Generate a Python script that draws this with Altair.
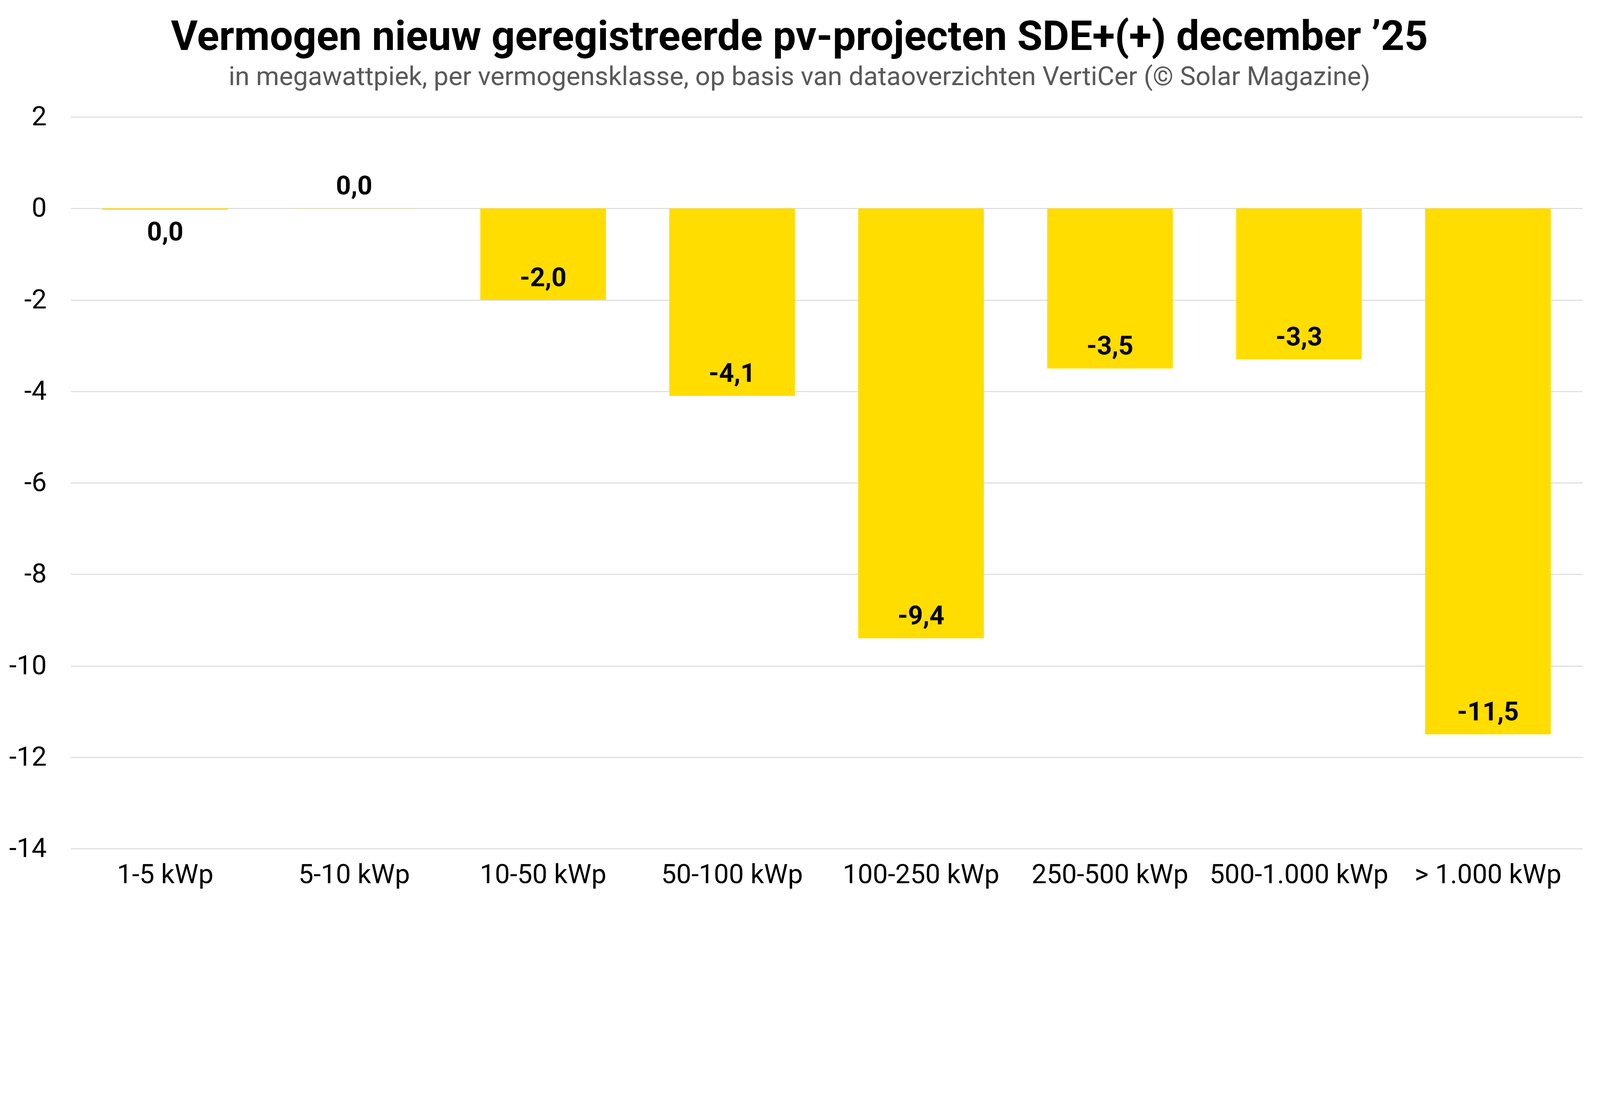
import altair as alt
import pandas as pd

categories = ["1-5 kWp", "5-10 kWp", "10-50 kWp", "50-100 kWp", "100-250 kWp",
              "250-500 kWp", "500-1.000 kWp", "> 1.000 kWp"]
values = [-0.03, 0.002, -2.0, -4.1, -9.4, -3.5, -3.3, -11.5]
y_ticks = [2, 0, -2, -4, -6, -8, -10, -12, -14]

df = pd.DataFrame({"klasse": categories, "waarde": values})

FONT = "Roboto"
K = 1 / 1.2255  # page pixels per photographed pixel

W, H = round(4715 * K * 1.006), round(2283 * K * 1.006)

x = alt.X("klasse:N", sort=categories, title=None,
          scale=alt.Scale(paddingInner=0.335, paddingOuter=0.1675),
          axis=alt.Axis(labelAngle=0, labelFontSize=84 * K, labelFont=FONT, labelColor="#000000",
                        labelPadding=42 * K, labelLimit=0, ticks=False, domain=False, grid=False))
y = alt.Y("waarde:Q", title=None,
          scale=alt.Scale(domain=[-14, 2], nice=False, zero=False),
          axis=alt.Axis(values=y_ticks, labelFontSize=84 * K, labelFont=FONT, labelColor="#000000",
                        labelPadding=76 * K, ticks=False, domain=False, grid=True,
                        gridColor="#D9D9D9", gridWidth=3 * K,
                        labelExpr="datum.value < 0 ? '-' + abs(datum.value) : '' + datum.value"))

base = alt.Chart(df).encode(x=x)

bars = base.mark_bar(color="#FFDD00").encode(y=y, y2=alt.datum(0))

label_expr = "(datum.waarde <= -0.05 ? '-' : '') + replace(format(abs(datum.waarde), '.1f'), '.', ',')"

labels_a = base.transform_filter("datum.waarde < -1 || datum.waarde >= 0").transform_calculate(
    lab=label_expr).mark_text(font=FONT, fontSize=82 * K, fontWeight="bold", color="#000000",
                              baseline="middle", dy=-68 * K).encode(
    y=alt.Y("waarde:Q"), text="lab:N")
labels_b = base.transform_filter("datum.waarde < 0 && datum.waarde >= -1").transform_calculate(
    lab=label_expr).mark_text(font=FONT, fontSize=82 * K, fontWeight="bold", color="#000000",
                              baseline="middle", dy=72 * K).encode(
    y=alt.Y("waarde:Q"), text="lab:N")

pad_left = 173
pad_top = 291.5
total_w, total_h = 4054, 2282

chart = alt.layer(bars, labels_a, labels_b).properties(
    width=W, height=H,
    autosize=alt.AutoSizeParams(type="none"),
    padding={"left": pad_left, "top": pad_top,
             "right": total_w - pad_left - W, "bottom": total_h - pad_top - H},
    title=alt.TitleParams(
        text="Vermogen nieuw geregistreerde pv-projecten SDE+(+) december \u201925",
        subtitle="in megawattpiek, per vermogensklasse, op basis van dataoverzichten VertiCer (\u00a9 Solar Magazine)",
        font=FONT, fontSize=129 * K, fontWeight="bold", color="#000000",
        subtitleFont=FONT, subtitleFontSize=82.6 * K, subtitleColor="#595959",
        subtitlePadding=19 * K, anchor="middle", dx=-85 * K, offset=40 * K),
).configure_view(stroke=None)

chart.save("out.html", embed_options={"renderer": "svg", "actions": False})
